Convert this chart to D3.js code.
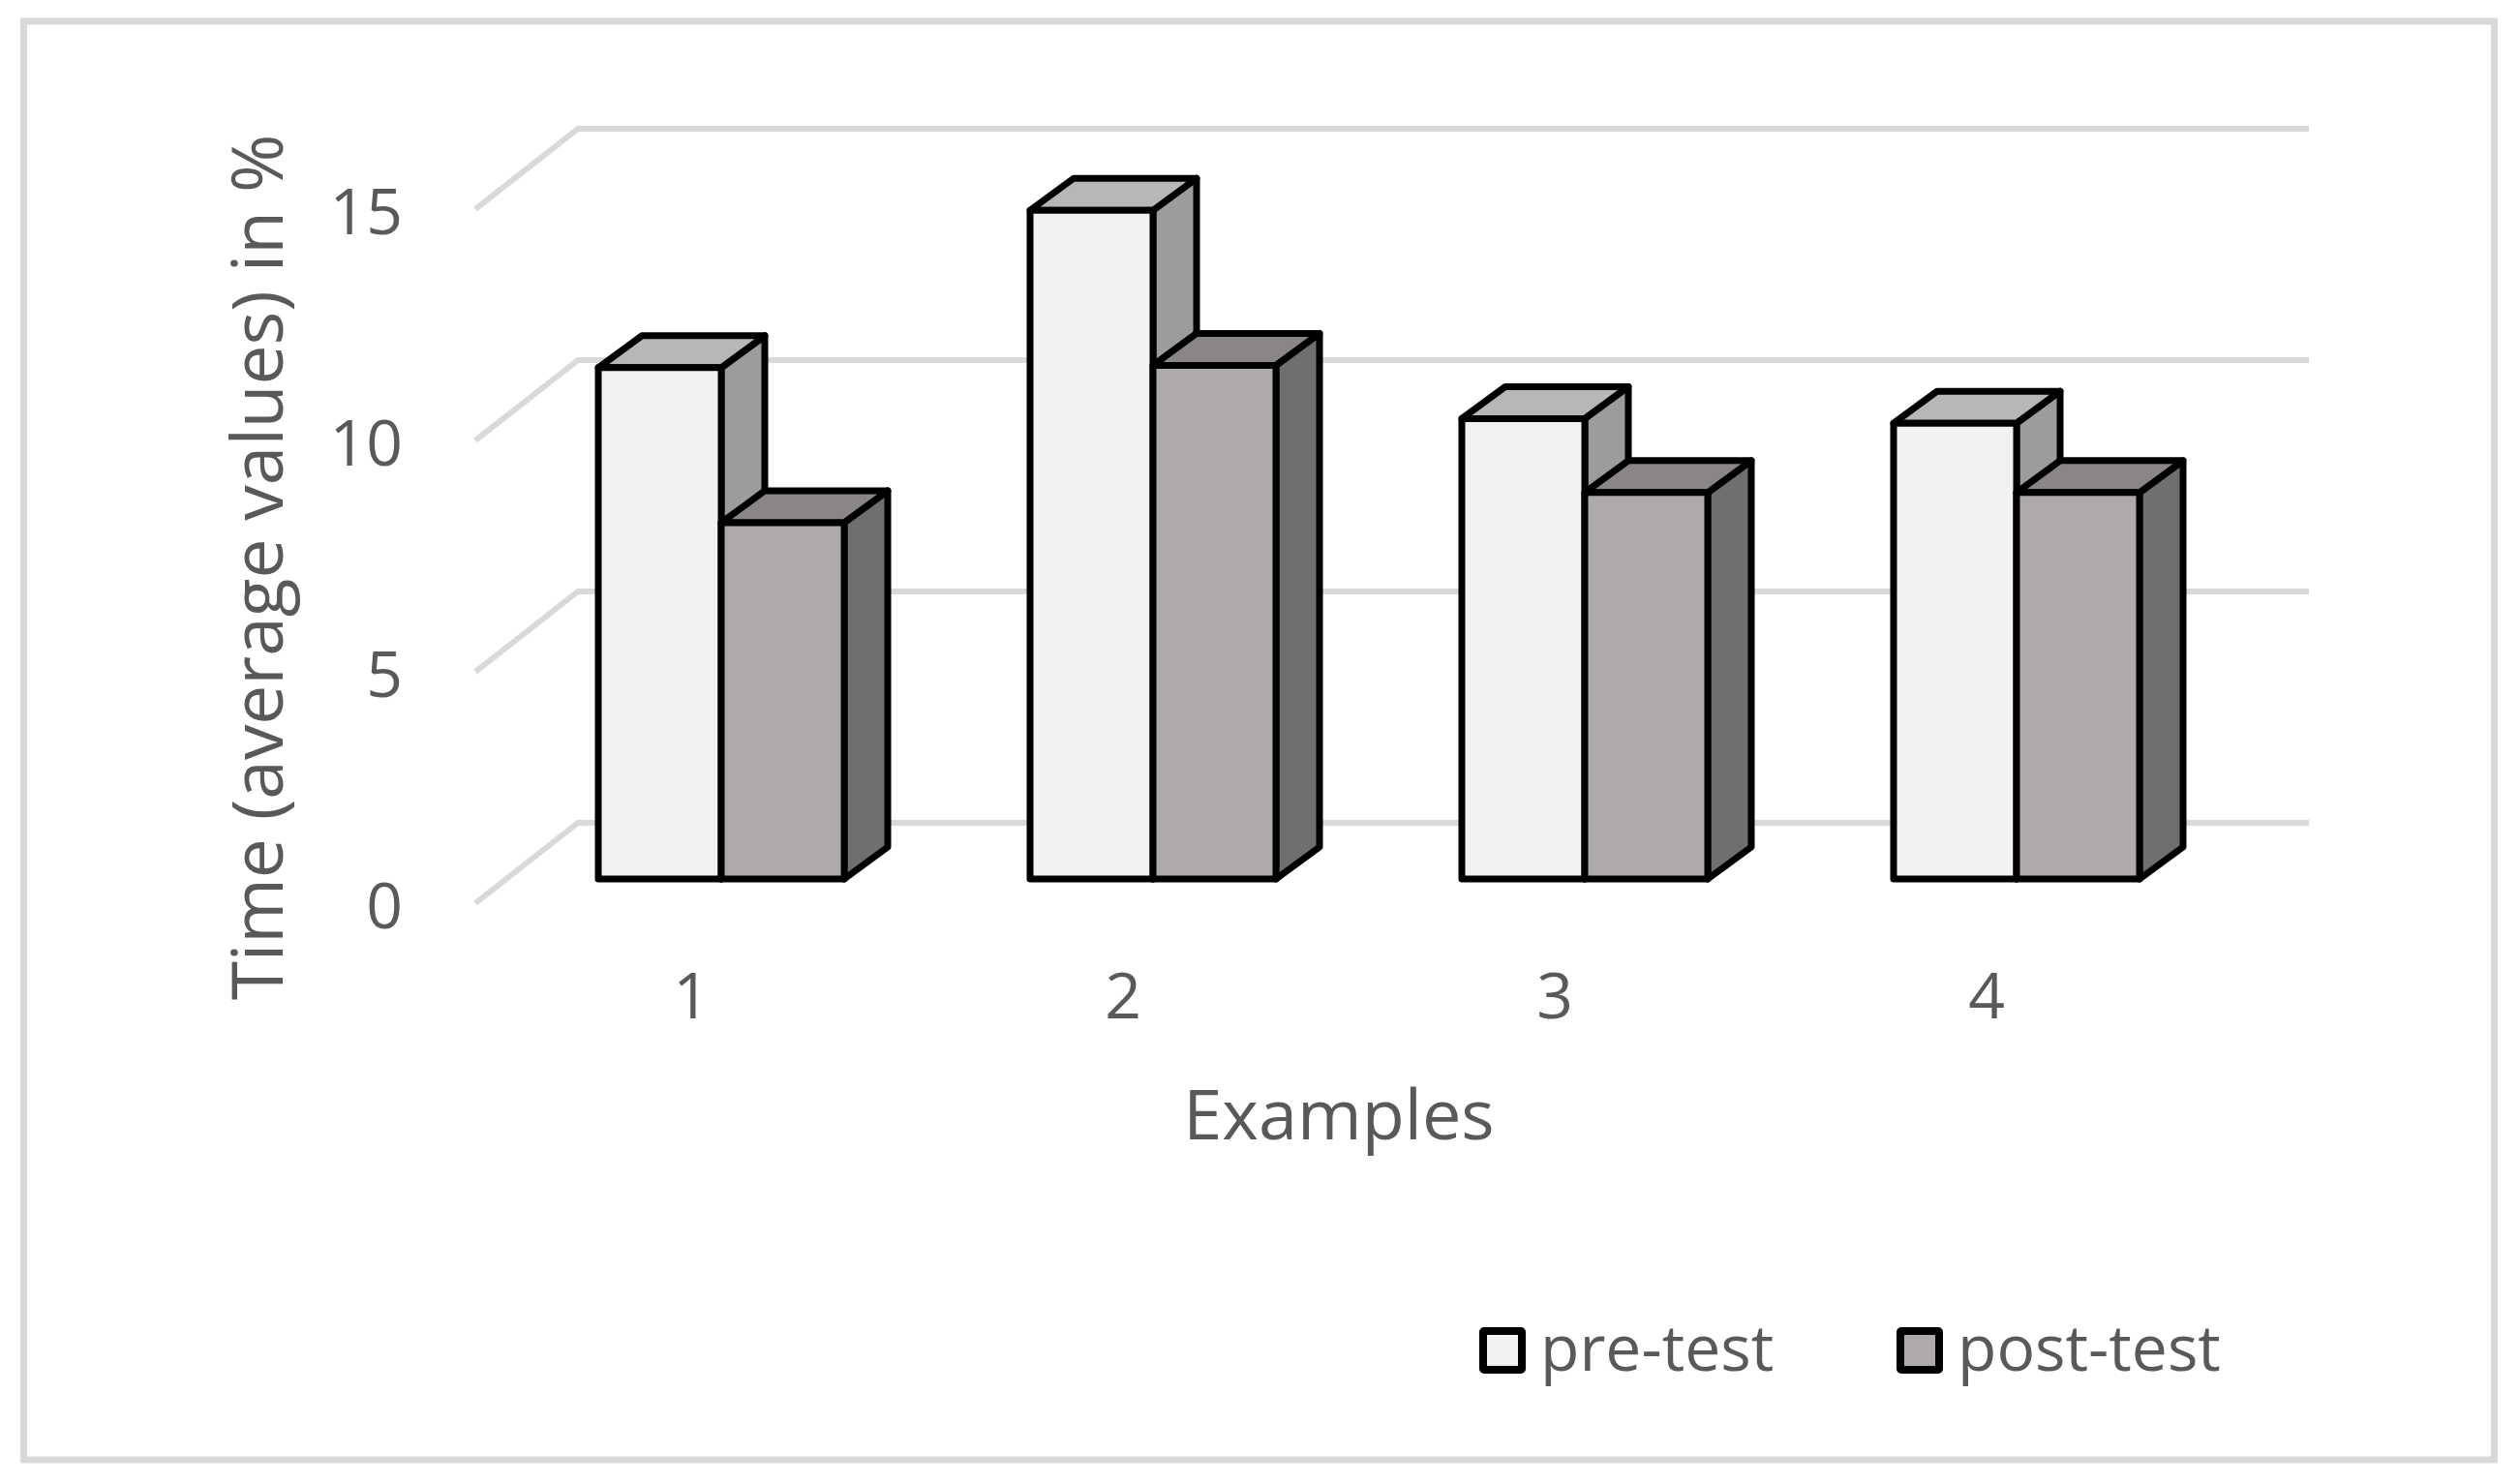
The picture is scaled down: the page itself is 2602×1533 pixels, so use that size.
<!DOCTYPE html>
<html><head><meta charset="utf-8">
<script src="https://cdn.jsdelivr.net/npm/d3@7"></script>
<style>html,body{margin:0;padding:0;background:#fff}svg{display:block}text{font-family:"Open Sans",sans-serif;fill:#595959}</style>
</head><body><svg id="c" width="2602" height="1533"></svg>
<script>
const categories=["1","2","3","4"];
const seriesNames=["pre-test","post-test"];
const preTest=[11.05,14.45,9.95,9.85];
const postTest=[7.7,11.1,8.35,8.35];
const yTicks=[0,5,10,15];
const frontColors=["#f2f2f2","#aeaaaa"];
const topColors=["#b7b7b7","#8a8685"];
const sideColors=["#9c9c9c","#706f6f"];
const values=[preTest,postTest];

const svg=d3.select("#c");
const x=d3.scaleBand().domain(categories).range([491,2275]);
const x1=d3.scaleBand().domain(seriesNames).range([0,254]);
const y=d3.scaleLinear().domain([0,15]).range([933,216]);
const wall={dx:106,dy:-83}, inset={dx:32,dy:-25}, depth={dx:45,dy:-33};

svg.append("rect").attr("x",24.5).attr("y",22).attr("width",2552).attr("height",1486)
  .attr("fill","#fff").attr("stroke","#d9d9d9").attr("stroke-width",7);

const line=d3.line();
svg.append("g").selectAll("path").data(yTicks).join("path")
  .attr("fill","none").attr("stroke","#d9d9d9").attr("stroke-width",6)
  .attr("d",t=>line([[x.range()[0],y(t)],[x.range()[0]+wall.dx,y(t)+wall.dy],[x.range()[1]+wall.dx+4,y(t)+wall.dy]]));

const yAxis=d3.axisLeft(y).tickValues(yTicks).tickSize(0).tickPadding(0);
const gy=svg.append("g").attr("transform","translate(416,0)").call(yAxis);
gy.select(".domain").remove();
gy.selectAll("text").attr("font-size",66).attr("dy",null).attr("y",25).style("font-family",'"Open Sans",sans-serif');

const xAxis=d3.axisBottom(x).tickSize(0).tickPadding(0);
const gx=svg.append("g").attr("transform","translate(0,1052)").call(xAxis);
gx.select(".domain").remove();
gx.selectAll("text").attr("font-size",66).attr("dy",null).attr("y",0).style("font-family",'"Open Sans",sans-serif');

const base=y(0)+inset.dy;
const bars=svg.append("g").attr("stroke","#000").attr("stroke-width",7).attr("stroke-linejoin","round");
categories.forEach((c,i)=>{
  const gx0=x(c)+x.bandwidth()/2+inset.dx-x1.range()[1]/2-1;
  seriesNames.forEach((s,k)=>{
    const l=gx0+x1(s), r=l+x1.bandwidth(), t=y(values[k][i])+inset.dy;
    const g=bars.append("g");
    g.append("path").attr("fill",sideColors[k]).attr("d",line([[r,t],[r+depth.dx,t+depth.dy],[r+depth.dx,base+depth.dy],[r,base]])+"Z");
    g.append("path").attr("fill",topColors[k]).attr("d",line([[l,t],[l+depth.dx,t+depth.dy],[r+depth.dx,t+depth.dy],[r,t]])+"Z");
    g.append("path").attr("fill",frontColors[k]).attr("d",line([[l,t],[r,t],[r,base],[l,base]])+"Z");
  });
});

svg.append("text").attr("x",1383).attr("y",1177).attr("text-anchor","middle").attr("font-size",72).text("Examples");
svg.append("text").attr("transform","translate(292,586) rotate(-90)").attr("text-anchor","middle").attr("font-size",73).text("Time (average values) in %");

const legX=[1528,1959];
seriesNames.forEach((s,k)=>{
  svg.append("rect").attr("x",legX[k]+4).attr("y",1375).attr("width",40).attr("height",40)
    .attr("fill",frontColors[k]).attr("stroke","#000").attr("stroke-width",8).attr("rx",1);
  svg.append("text").attr("x",legX[k]+63).attr("y",1416).attr("font-size",66).text(s);
});
</script></body></html>
